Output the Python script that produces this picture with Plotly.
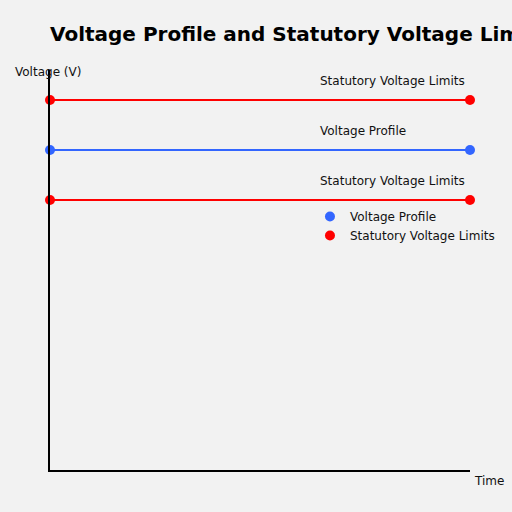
import plotly.graph_objects as go

# time span and voltage levels (arbitrary units)
time_pts = [0, 10]
upper_limit = [7.4, 7.4]
voltage_profile = [6.4, 6.4]
lower_limit = [5.4, 5.4]

red = "#ff0000"
blue = "#3366ff"
font = "DejaVu Sans"

fig = go.Figure()

for yy, col in [(upper_limit, red), (voltage_profile, blue), (lower_limit, red)]:
	fig.add_trace(go.Scatter(x=time_pts, y=yy, mode="lines+markers",
		line=dict(color=col, width=2), marker=dict(color=col, size=10),
		cliponaxis=False, showlegend=False, hoverinfo="skip"))

# legend-only marker entries
fig.add_trace(go.Scatter(x=[None], y=[None], mode="markers", name="Voltage Profile",
	marker=dict(color=blue, size=10)))
fig.add_trace(go.Scatter(x=[None], y=[None], mode="markers", name="Statutory Voltage Limits",
	marker=dict(color=red, size=10)))

labels = [(upper_limit[0], "Statutory Voltage Limits"),
	(voltage_profile[0], "Voltage Profile"),
	(lower_limit[0], "Statutory Voltage Limits")]
for yv, txt in labels:
	fig.add_annotation(x=0.638, xref="paper", y=yv, yref="y", text=txt,
		showarrow=False, xanchor="left", yanchor="middle", yshift=19.5,
		font=dict(family=font, size=12, color="#111"))

fig.add_annotation(x=-0.088, xref="paper", y=0.995, yref="paper", text="Voltage (V)",
	showarrow=False, xanchor="left", yanchor="middle",
	font=dict(family=font, size=12, color="#111"))
fig.add_annotation(x=1.005, xref="paper", y=-0.0275, yref="paper", text="Time",
	showarrow=False, xanchor="left", yanchor="middle",
	font=dict(family=font, size=12, color="#111"))

fig.update_xaxes(range=[0, 10], showline=True, linecolor="black", linewidth=2,
	showgrid=False, zeroline=False, showticklabels=False, ticks="")
fig.update_yaxes(range=[0, 8], showline=True, linecolor="black", linewidth=2,
	showgrid=False, zeroline=False, showticklabels=False, ticks="")

fig.update_layout(
	width=512, height=512,
	paper_bgcolor="#f2f2f2", plot_bgcolor="#f2f2f2",
	margin=dict(l=50, r=42, t=70, b=42),
	title=dict(text="<b>Voltage Profile and Statutory Voltage Limits</b>",
		x=50/512, xanchor="left", y=1-34/512, yanchor="middle",
		font=dict(family=font, size=20, color="black")),
	legend=dict(x=0.619, y=0.67, xanchor="left", yanchor="top",
		bgcolor="rgba(0,0,0,0)", font=dict(family=font, size=12, color="#111")),
)

# drop the page's default body margin so the figure sits at the top-left corner
fig.write_html("out.html", config={"displayModeBar": False},
	post_script="document.body.style.margin='0';")
